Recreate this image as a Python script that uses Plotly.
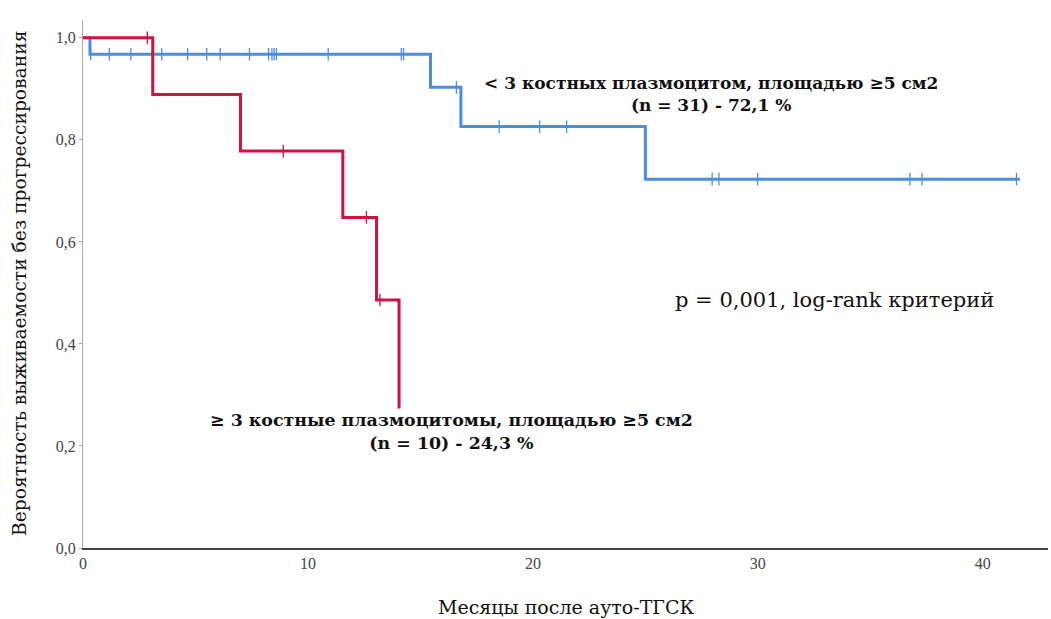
import plotly.graph_objects as go
import numpy as np

# ---- data ----
blue_times = [0.0, 0.31, 15.45, 16.8, 25.0, 41.65]
blue_surv = [1.0, 0.968, 0.903, 0.826, 0.723, 0.723]
blue_censor = [0.34, 1.17, 2.13, 3.5, 4.65, 5.5, 6.1, 7.4, 8.25, 8.4, 8.5, 8.6,
               10.9, 14.15, 14.25, 16.6, 18.5, 20.3, 21.5, 27.97, 28.27, 29.99,
               36.76, 37.3, 41.5]

red_times = [0.0, 3.1, 7.0, 11.55, 13.05, 14.05]
red_surv = [1.0, 0.889, 0.778, 0.648, 0.486, 0.243]
red_censor = [2.86, 8.9, 12.6, 13.2]

x_ticks = [0, 10, 20, 30, 40]
y_ticks = [0.0, 0.2, 0.4, 0.6, 0.8, 1.0]
y_ticklabels = ["0,0", "0,2", "0,4", "0,6", "0,8", "1,0"]

BLUE = "#4a8ee0"
RED = "#d1123f"
TICKFONT = "Liberation Serif"
TEXTFONT = "DejaVu Serif"


def step_value(times, surv, t):
    idx = np.searchsorted(np.array(times), t, side="right") - 1
    return surv[max(idx, 0)]


fig = go.Figure()

for times, surv, cens, col in [(blue_times, blue_surv, blue_censor, BLUE),
                               (red_times, red_surv, red_censor, RED)]:
    fig.add_trace(go.Scatter(x=times, y=surv, mode="lines", line_shape="hv",
                             line=dict(color=col, width=3), hoverinfo="skip",
                             showlegend=False))
    fig.add_trace(go.Scatter(x=cens, y=[step_value(times, surv, t) for t in cens],
                             mode="markers",
                             marker=dict(symbol="line-ns", size=9,
                                         line=dict(color=col, width=1.3)),
                             showlegend=False, hoverinfo="skip"))

fig.update_layout(
    width=1051, height=619,
    margin=dict(l=83, r=3, t=20, b=71),
    plot_bgcolor="white", paper_bgcolor="white",
    font=dict(family=TICKFONT, color="#222"),
    xaxis=dict(range=[0, 42.9], tickvals=x_ticks, ticktext=[str(v) for v in x_ticks],
               showgrid=False, zeroline=False, showline=True, linecolor="#444",
               linewidth=1.5, ticks="", tickfont=dict(size=16, color="#444")),
    yaxis=dict(range=[0, 1.035], tickvals=y_ticks, ticktext=y_ticklabels,
               showgrid=False, zeroline=False, showline=True, linecolor="#aaa",
               linewidth=1, ticks="outside", ticklen=3, tickcolor="#aaa",
               tickfont=dict(size=16, color="#444")),
    annotations=[
        dict(text="Вероятность выживаемости без прогрессирования", textangle=-90,
             xref="paper", yref="paper", x=-0.0653, y=0.502, xanchor="center",
             yanchor="middle", showarrow=False,
             font=dict(family=TEXTFONT, size=18.7, color="#111")),
        dict(text="Месяцы после ауто-ТГСК", xref="paper", yref="paper",
             x=0.5, y=-0.112, xanchor="center", yanchor="middle", showarrow=False,
             font=dict(family=TEXTFONT, size=19, color="#111")),
        dict(text="<b>< 3 костных плазмоцитом, площадью ≥5 см2<br>(n = 31) - 72,1 %</b>",
             x=27.9, y=0.890, xref="x", yref="y", showarrow=False,
             font=dict(family=TEXTFONT, size=17, color="#111"), align="center"),
        dict(text="p = 0,001, log-rank критерий", x=33.4, y=0.486, xref="x", yref="y",
             showarrow=False, font=dict(family=TEXTFONT, size=21, color="#111")),
        dict(text="<b>≥ 3 костные плазмоцитомы, площадью ≥5 см2<br>(n = 10) - 24,3 %</b>",
             x=16.4, y=0.229, xref="x", yref="y", showarrow=False,
             font=dict(family=TEXTFONT, size=17.4, color="#111"), align="center",
             bgcolor="white"),
    ],
)

fig.write_html("out.html", config={"displayModeBar": False},
               post_script="document.body.style.margin='0px';")
